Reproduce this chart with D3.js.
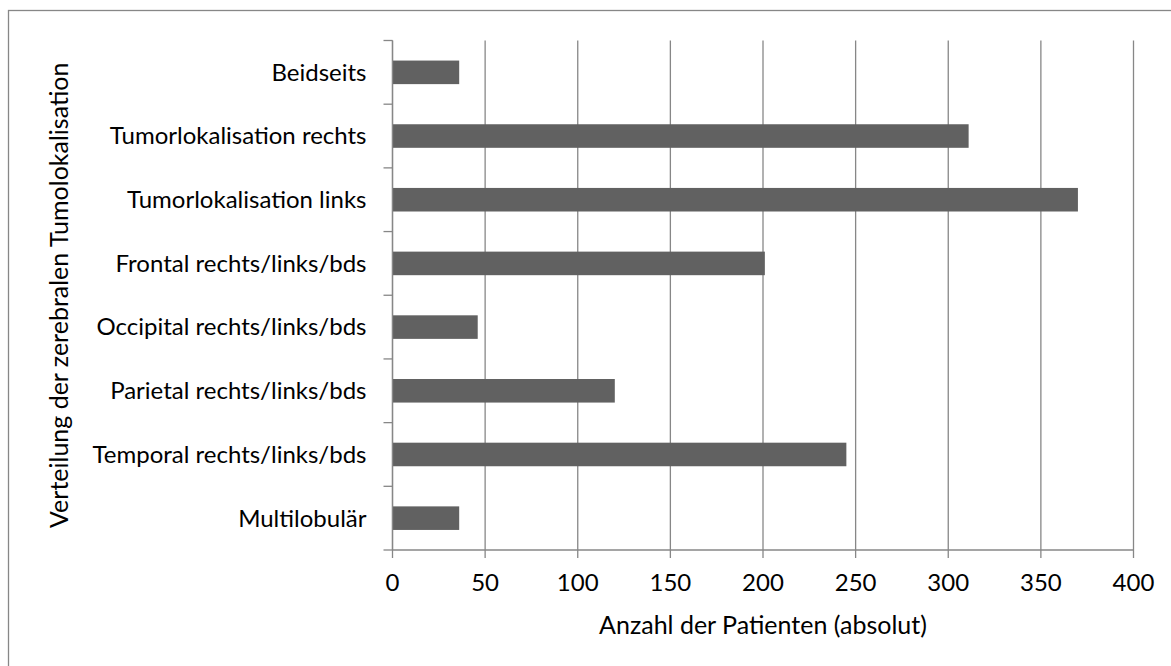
<!DOCTYPE html>
<html>
<head>
<meta charset="utf-8">
<script src="https://cdn.jsdelivr.net/npm/d3@7"></script>
<style>
  body { margin: 0; background: #fff; }
  text { font-family: Lato, "Open Sans", sans-serif; fill: #000; }
</style>
</head>
<body>
<svg id="chart" width="1171" height="666"></svg>
<script>
// Kategorien von oben nach unten
var categories = [
    "Beidseits",
    "Tumorlokalisation rechts",
    "Tumorlokalisation links",
    "Frontal rechts/links/bds",
    "Occipital rechts/links/bds",
    "Parietal rechts/links/bds",
    "Temporal rechts/links/bds",
    "Multilobulär"
];
var patients = [36, 311, 370, 201, 46, 120, 245, 36];
var xTicks = [0, 50, 100, 150, 200, 250, 300, 350, 400];

var xTitle = "Anzahl der Patienten (absolut)";
var yTitle = "Verteilung der zerebralen Tumolokalisation";

var margin = {top: 40.5, left: 392.5},
    width = 741,
    height = 509.5;

var fontSize = 24;
var lineColor = "#878787";
var barColor = "#616161";

var svg = d3.select("#chart");

// Rahmen (rechts/unten abgeschnitten wie im Original)
svg.append("rect")
    .attr("x", 8.5).attr("y", 10.5)
    .attr("width", 1200).attr("height", 700)
    .attr("fill", "none")
    .attr("stroke", lineColor)
    .attr("stroke-width", 1.3);

var g = svg.append("g")
    .attr("transform", "translate(" + margin.left + "," + margin.top + ")");

var x = d3.scaleLinear().domain([0, 400]).range([0, width]);
var y = d3.scaleBand().domain(categories).range([0, height]).paddingInner(0.63).paddingOuter(0.315);

// Gitterlinien
g.selectAll("line.grid")
    .data(xTicks)
    .enter().append("line")
    .attr("class", "grid")
    .attr("x1", function (d) { return x(d); })
    .attr("x2", function (d) { return x(d); })
    .attr("y1", 0)
    .attr("y2", height + 8)
    .attr("stroke", lineColor)
    .attr("stroke-width", 1.3);

// Balken
g.selectAll("rect.bar")
    .data(categories)
    .enter().append("rect")
    .attr("class", "bar")
    .attr("x", x(0))
    .attr("y", function (d) { return y(d); })
    .attr("width", function (d, i) { return x(patients[i]); })
    .attr("height", y.bandwidth())
    .attr("fill", barColor);

// y-Achse mit Teilstrichen an den Kategoriegrenzen
var step = height / categories.length;
var boundaries = d3.range(categories.length + 1).map(function (i) { return i * step; });

g.append("line")
    .attr("x1", 0).attr("x2", 0)
    .attr("y1", 0).attr("y2", height)
    .attr("stroke", lineColor).attr("stroke-width", 1.3);

g.selectAll("line.ytick")
    .data(boundaries)
    .enter().append("line")
    .attr("class", "ytick")
    .attr("x1", -9).attr("x2", 0)
    .attr("y1", function (d) { return d; })
    .attr("y2", function (d) { return d; })
    .attr("stroke", lineColor).attr("stroke-width", 1.3);

g.append("line")
    .attr("x1", 0).attr("x2", width)
    .attr("y1", height).attr("y2", height)
    .attr("stroke", lineColor).attr("stroke-width", 1.3);

// Beschriftungen
g.selectAll("text.cat")
    .data(categories)
    .enter().append("text")
    .attr("class", "cat")
    .attr("x", -26)
    .attr("y", function (d) { return y(d) + y.bandwidth() / 2; })
    .attr("dy", "0.35em")
    .style("text-anchor", "end")
    .style("font-size", fontSize + "px")
    .text(function (d) { return d; });

g.selectAll("text.xtick")
    .data(xTicks)
    .enter().append("text")
    .attr("class", "xtick")
    .attr("x", function (d) { return x(d); })
    .attr("y", height + 41)
    .style("text-anchor", "middle")
    .style("font-size", fontSize + "px")
    .text(function (d) { return d; });

g.append("text")
    .attr("x", width / 2)
    .attr("y", height + 84)
    .style("text-anchor", "middle")
    .style("font-size", "25px")
    .text(xTitle);

svg.append("text")
    .attr("transform", "translate(68," + (margin.top + height / 2) + ") rotate(-90)")
    .style("text-anchor", "middle")
    .style("font-size", "25px")
    .text(yTitle);
</script>
</body>
</html>
